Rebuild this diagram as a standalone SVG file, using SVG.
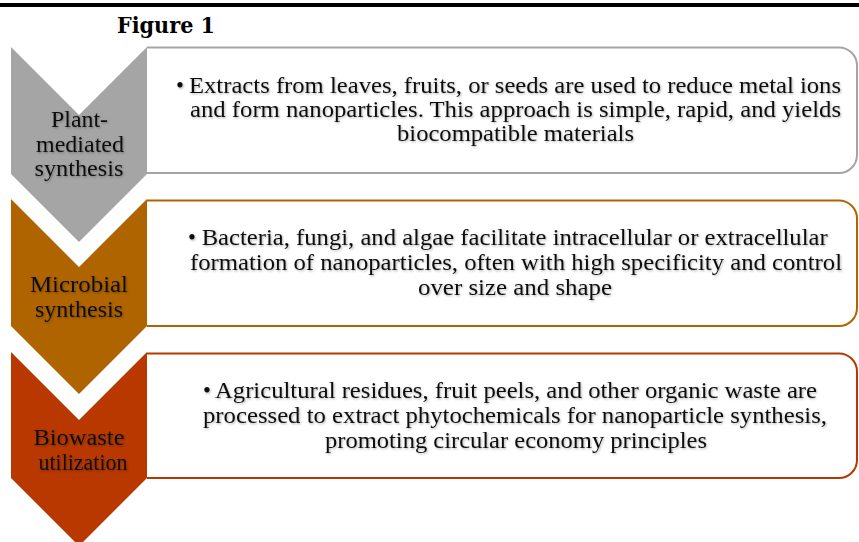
<svg xmlns="http://www.w3.org/2000/svg" width="859" height="542" viewBox="0 0 859 542">
<defs>
<filter id="sh" x="-5%" y="-20%" width="110%" height="150%">
<feDropShadow dx="1" dy="1.2" stdDeviation="0.9" flood-color="#000" flood-opacity="0.3"/>
</filter>
</defs>
<style>
.t{font-family:'Liberation Serif','Times New Roman',serif;font-size:22.5px;fill:#111;}
.c{text-anchor:middle;}
.box{fill:#fff;stroke-width:2;}
.title{font-family:'DejaVu Serif',serif;font-weight:bold;font-size:22px;fill:#000;}
</style>
<rect x="0" y="3" width="859" height="4" fill="#000"/>
<text class="title" x="117" y="33" textLength="98" lengthAdjust="spacingAndGlyphs">Figure 1</text>

<g id="node-plant">
<path class="box" stroke="#A5A5A5" d="M147,47.5 H839 A18,18 0 0 1 857,65.5 V155 A18,18 0 0 1 839,173 H147"/>
<polygon fill="#A5A5A5" points="11,47 79,115 147,47 147,174 79,242 11,174"/>
<g filter="url(#sh)">
<text class="t c" x="79.5" y="126.7" textLength="57" lengthAdjust="spacingAndGlyphs">Plant-</text>
<text class="t c" x="80" y="151.5" textLength="88" lengthAdjust="spacingAndGlyphs">mediated</text>
<text class="t c" x="79" y="175.5" textLength="89" lengthAdjust="spacingAndGlyphs">synthesis</text>
<text class="t" x="176" y="92.5">•</text>
<text class="t" x="189" y="92.5" textLength="652" lengthAdjust="spacingAndGlyphs">Extracts from leaves, fruits, or seeds are used to reduce metal ions</text>
<text class="t" x="190" y="116.7" textLength="651" lengthAdjust="spacingAndGlyphs">and form nanoparticles. This approach is simple, rapid, and yields</text>
<text class="t" x="397" y="141" textLength="237" lengthAdjust="spacingAndGlyphs">biocompatible materials</text>
</g>
</g>

<g id="node-microbial">
<path class="box" stroke="#B06400" d="M147,200.5 H839 A18,18 0 0 1 857,218.5 V308 A18,18 0 0 1 839,326 H147"/>
<polygon fill="#B06400" points="11,199 79,267 147,199 147,326 79,394 11,326"/>
<g filter="url(#sh)">
<text class="t c" x="79" y="291.7" textLength="98" lengthAdjust="spacingAndGlyphs">Microbial</text>
<text class="t c" x="79" y="316.7" textLength="88" lengthAdjust="spacingAndGlyphs">synthesis</text>
<text class="t" x="188" y="245">•</text>
<text class="t" x="201.7" y="245" textLength="626" lengthAdjust="spacingAndGlyphs">Bacteria, fungi, and algae facilitate intracellular or extracellular</text>
<text class="t" x="190" y="270" textLength="652" lengthAdjust="spacingAndGlyphs">formation of nanoparticles, often with high specificity and control</text>
<text class="t" x="418" y="295" textLength="194" lengthAdjust="spacingAndGlyphs">over size and shape</text>
</g>
</g>

<g id="node-biowaste">
<path class="box" stroke="#B83800" d="M147,353.5 H839 A18,18 0 0 1 857,371.5 V460 A18,18 0 0 1 839,478 H147"/>
<polygon fill="#B83800" points="11,352 79,420 147,352 147,478 79,546 11,478"/>
<g filter="url(#sh)">
<text class="t c" x="79" y="445" textLength="91" lengthAdjust="spacingAndGlyphs">Biowaste</text>
<text class="t c" x="83" y="470" textLength="89" lengthAdjust="spacingAndGlyphs">utilization</text>
<text class="t" x="203" y="398">•</text>
<text class="t" x="215" y="398" textLength="602" lengthAdjust="spacingAndGlyphs">Agricultural residues, fruit peels, and other organic waste are</text>
<text class="t" x="203" y="423" textLength="624" lengthAdjust="spacingAndGlyphs">processed to extract phytochemicals for nanoparticle synthesis,</text>
<text class="t" x="325" y="448" textLength="382" lengthAdjust="spacingAndGlyphs">promoting circular economy principles</text>
</g>
</g>

<g id="connectors"></g>
</svg>
